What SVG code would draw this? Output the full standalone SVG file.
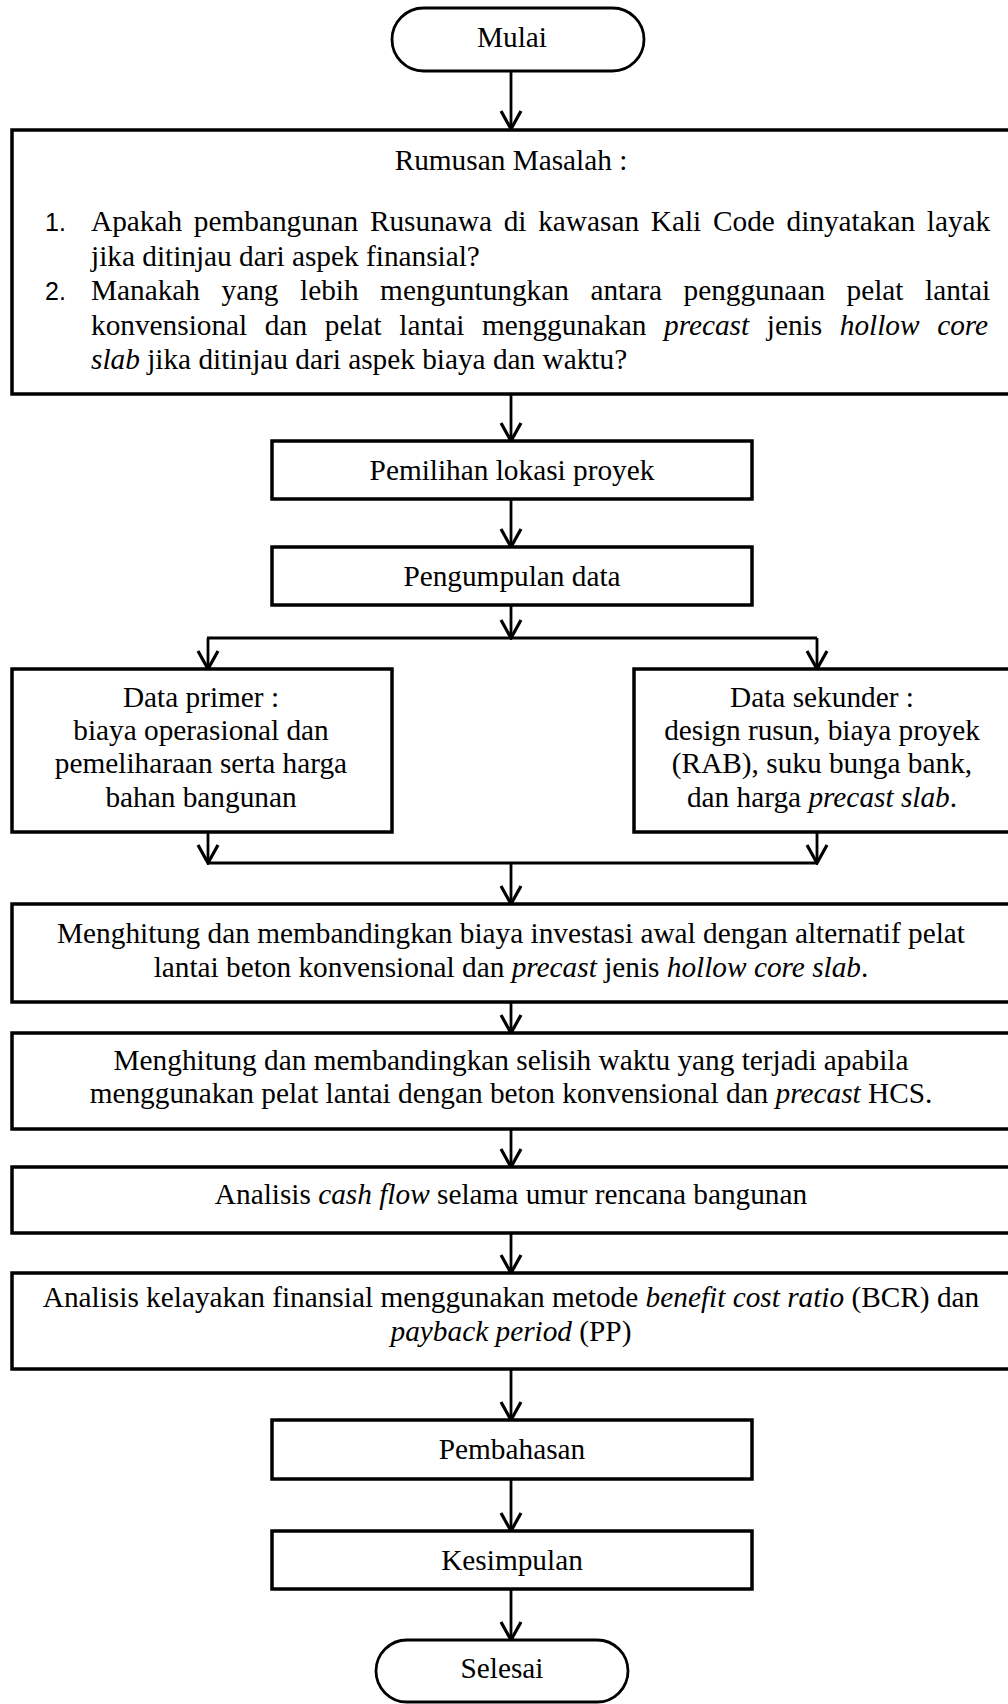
<svg xmlns="http://www.w3.org/2000/svg" width="1008" height="1704" viewBox="0 0 1008 1704">
<defs>
<style>
.box{fill:#fff;stroke:#000;stroke-width:3.5}
.term{fill:#fff;stroke:#000;stroke-width:2.8}
.t{font-family:"Liberation Serif","Times New Roman",serif;font-size:29.3px;fill:#000}
.c{text-anchor:middle}
.i{font-style:italic}
.num{font-family:"Liberation Sans",Arial,sans-serif;font-size:25px;fill:#000}
.con line{stroke:#000;stroke-width:2.8;fill:none}
</style>
<marker id="arr" viewBox="0 0 22 24" refX="20" refY="12" markerWidth="22" markerHeight="24" markerUnits="userSpaceOnUse" orient="auto">
<path d="M2,2 L20,12 L2,22" fill="none" stroke="#000" stroke-width="3.2"/>
</marker>
</defs>
<rect width="1008" height="1704" fill="#fff"/>

<g id="connectors" class="con">
<line x1="511" y1="71" x2="511" y2="129" marker-end="url(#arr)"/>
<line x1="511" y1="394" x2="511" y2="441" marker-end="url(#arr)"/>
<line x1="511" y1="499" x2="511" y2="547" marker-end="url(#arr)"/>
<line x1="511" y1="605" x2="511" y2="638" marker-end="url(#arr)"/>
<line x1="207" y1="638" x2="817" y2="638"/>
<line x1="208" y1="638" x2="208" y2="669" marker-end="url(#arr)"/>
<line x1="817" y1="638" x2="817" y2="669" marker-end="url(#arr)"/>
<line x1="208" y1="832" x2="208" y2="863" marker-end="url(#arr)"/>
<line x1="817" y1="832" x2="817" y2="863" marker-end="url(#arr)"/>
<line x1="207" y1="863" x2="817" y2="863"/>
<line x1="511" y1="863" x2="511" y2="904" marker-end="url(#arr)"/>
<line x1="511" y1="1002" x2="511" y2="1033" marker-end="url(#arr)"/>
<line x1="511" y1="1129" x2="511" y2="1167" marker-end="url(#arr)"/>
<line x1="511" y1="1233" x2="511" y2="1273" marker-end="url(#arr)"/>
<line x1="511" y1="1369" x2="511" y2="1420" marker-end="url(#arr)"/>
<line x1="511" y1="1479" x2="511" y2="1531" marker-end="url(#arr)"/>
<line x1="511" y1="1589" x2="511" y2="1640" marker-end="url(#arr)"/>
</g>

<g id="mulai">
<rect class="term" x="392" y="8" width="252" height="63" rx="31.5"/>
<text class="t c" x="512" y="47">Mulai</text>
</g>

<g id="rumusan">
<rect class="box" x="12" y="130" width="1000" height="264"/>
<text class="t c" x="511" y="170">Rumusan Masalah :</text>
<text class="num" x="45" y="231">1.</text>
<text class="t" x="91" y="231" word-spacing="4.4">Apakah pembangunan Rusunawa di kawasan Kali Code dinyatakan layak</text>
<text class="t" x="91" y="265.5">jika ditinjau dari aspek finansial?</text>
<text class="num" x="45" y="300">2.</text>
<text class="t" x="91" y="300" word-spacing="14.2">Manakah yang lebih menguntungkan antara penggunaan pelat lantai</text>
<text class="t" x="91" y="334.5" word-spacing="10.3">konvensional dan pelat lantai menggunakan <tspan class="i">precast</tspan> jenis <tspan class="i">hollow core</tspan></text>
<text class="t" x="91" y="369"><tspan class="i">slab</tspan> jika ditinjau dari aspek biaya dan waktu?</text>
</g>

<g id="pemilihan">
<rect class="box" x="272" y="441" width="480" height="58"/>
<text class="t c" x="512" y="480">Pemilihan lokasi proyek</text>
</g>

<g id="pengumpulan">
<rect class="box" x="272" y="547" width="480" height="58"/>
<text class="t c" x="512" y="586">Pengumpulan data</text>
</g>

<g id="primer">
<rect class="box" x="12" y="669" width="380" height="163"/>
<text class="t c" x="201" y="707">Data primer :</text>
<text class="t c" x="201" y="740">biaya operasional dan</text>
<text class="t c" x="201" y="773">pemeliharaan serta harga</text>
<text class="t c" x="201" y="807">bahan bangunan</text>
</g>

<g id="sekunder">
<rect class="box" x="634" y="669" width="380" height="163"/>
<text class="t c" x="822" y="707">Data sekunder :</text>
<text class="t c" x="822" y="740">design rusun, biaya proyek</text>
<text class="t c" x="822" y="773">(RAB), suku bunga bank,</text>
<text class="t c" x="822" y="807">dan harga <tspan class="i">precast slab</tspan>.</text>
</g>

<g id="investasi">
<rect class="box" x="12" y="904" width="1000" height="98"/>
<text class="t c" x="511" y="943">Menghitung dan membandingkan biaya investasi awal dengan alternatif pelat</text>
<text class="t c" x="511" y="977">lantai beton konvensional dan <tspan class="i">precast</tspan> jenis <tspan class="i">hollow core slab</tspan>.</text>
</g>

<g id="waktu">
<rect class="box" x="12" y="1033" width="1000" height="96"/>
<text class="t c" x="511" y="1070">Menghitung dan membandingkan selisih waktu yang terjadi apabila</text>
<text class="t c" x="511" y="1103">menggunakan pelat lantai dengan beton konvensional dan <tspan class="i">precast</tspan> HCS.</text>
</g>

<g id="cashflow">
<rect class="box" x="12" y="1167" width="1000" height="66"/>
<text class="t c" x="511" y="1204">Analisis <tspan class="i">cash flow</tspan> selama umur rencana bangunan</text>
</g>

<g id="kelayakan">
<rect class="box" x="12" y="1273" width="1000" height="96"/>
<text class="t c" x="511" y="1307">Analisis kelayakan finansial menggunakan metode <tspan class="i">benefit cost ratio</tspan> (BCR) dan</text>
<text class="t c" x="511" y="1341"><tspan class="i">payback period</tspan> (PP)</text>
</g>

<g id="pembahasan">
<rect class="box" x="272" y="1420" width="480" height="59"/>
<text class="t c" x="512" y="1459">Pembahasan</text>
</g>

<g id="kesimpulan">
<rect class="box" x="272" y="1531" width="480" height="58"/>
<text class="t c" x="512" y="1570">Kesimpulan</text>
</g>

<g id="selesai">
<rect class="term" x="376" y="1640" width="252" height="62" rx="31"/>
<text class="t c" x="502" y="1678">Selesai</text>
</g>
</svg>
